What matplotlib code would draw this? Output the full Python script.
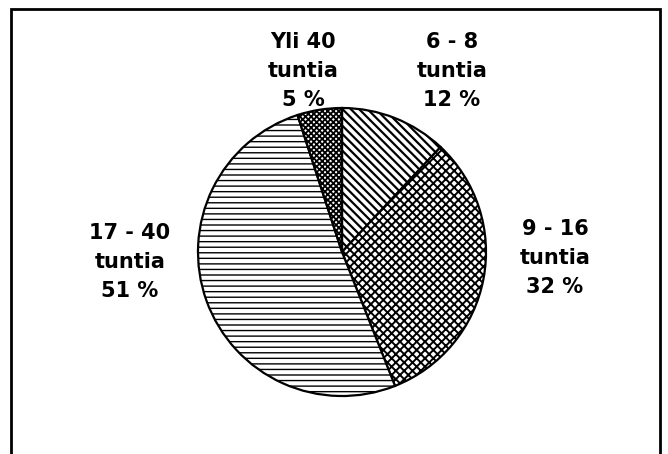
import matplotlib
matplotlib.use("Agg")
import matplotlib.pyplot as plt
from matplotlib.patches import Rectangle

# data
categories = ["6 - 8\ntuntia", "9 - 16\ntuntia", "17 - 40\ntuntia", "Yli 40\ntuntia"]
shares = [12, 32, 51, 5]
hatches = ["\\\\\\\\", "xxxx", "---", "xxxxxx"]
hatch_widths = [1.6, 1.4, 1.0, 1.3]

# label anchor points (pixels, y measured from top)
label_xy = [(452, 71), (555, 258), (130, 262), (303, 71)]

W, H = 668, 454
CENTER = (342, H - 252)
RADIUS = 144

plt.rcParams["font.family"] = ["DejaVu Sans"]
plt.rcParams["hatch.linewidth"] = 1.4


def main() -> None:
    fig = plt.figure(figsize=(W / 100, H / 100), dpi=100)
    ax = fig.add_axes([0, 0, 1, 1])

    wedges, _ = ax.pie(
        shares,
        center=CENTER,
        radius=RADIUS,
        startangle=90,
        counterclock=False,
        colors=["white"] * len(shares),
        wedgeprops={"edgecolor": "black", "linewidth": 1.6},
        frame=True,
    )
    for wedge, hatch, hw in zip(wedges, hatches, hatch_widths):
        wedge.set_hatch(hatch)
        if hasattr(wedge, "set_hatch_linewidth"):
            wedge.set_hatch_linewidth(hw)

    ax.set_xlim(0, W)
    ax.set_ylim(0, H)
    ax.set_aspect("equal")
    ax.axis("off")

    for name, share, (x, y) in zip(categories, shares, label_xy):
        ax.text(
            x,
            H - y,
            f"{name}\n{share} %",
            ha="center",
            va="center",
            fontsize=15,
            fontweight="bold",
            linespacing=1.55,
        )

    # frame round the chart
    ax.add_patch(
        Rectangle(
            (11, -10),
            649,
            H - 9 + 10,
            fill=False,
            edgecolor="black",
            linewidth=2,
            clip_on=False,
        )
    )

    fig.savefig("out.png", dpi=100)
    plt.close(fig)


if __name__ == "__main__":
    main()
